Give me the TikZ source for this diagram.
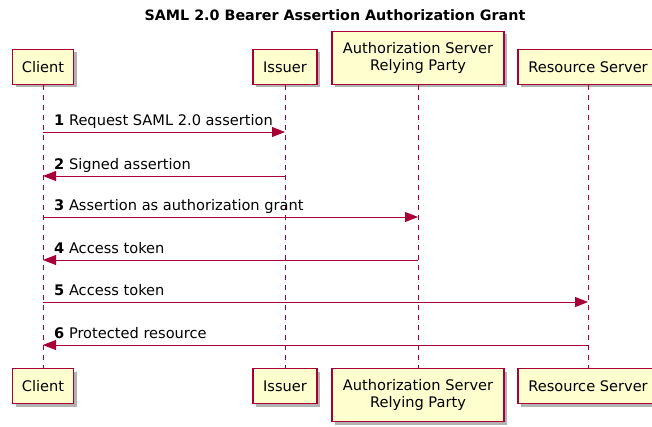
\documentclass[tikz,border=0pt]{standalone}
\usepackage{fontspec}
\setmainfont{DejaVu Sans}
\usetikzlibrary{arrows.meta}
\usetikzlibrary{shadows}
\definecolor{umlred}{HTML}{A80036}
\definecolor{umlyellow}{HTML}{FEFECE}
\tikzset{
    actor/.style = {align=center, inner sep=0pt, draw=umlred, fill=umlyellow, line width=1.3pt, minimum height=35pt,
        font=\fontsize{14.6}{17.5}\selectfont,
        drop shadow={shadow xshift=3pt, shadow yshift=-3pt, fill=black, opacity=0.3}},
    lifeline/.style = {draw=umlred, line width=0.8pt, dash pattern=on 5pt off 5pt},
    msg/.style = {draw=umlred, line width=0.9pt, -{Triangle[length=13pt, width=10pt]}},
    lbl/.style = {anchor=base west, inner sep=0pt, font=\fontsize{14.6}{17.5}\selectfont}
}

\begin{document}
\begin{tikzpicture}[x=1pt, y=-1pt]
    \useasboundingbox (0,0) rectangle (652,426);

    \node [font=\bfseries\fontsize{14.3}{17}\selectfont] (title) at (335,15) {SAML 2.0 Bearer Assertion Authorization Grant};

    % participants, top row
    \node [actor, anchor=south, minimum width=61pt]  (clientTop)   at (43,85)  {Client};
    \node [actor, anchor=south, minimum width=64pt]  (issuerTop)   at (285,85) {Issuer};
    \node [actor, anchor=south, minimum width=172pt, minimum height=53pt] (authTop) at (418,85)
        {Authorization Server\\Relying Party};
    \node [actor, anchor=south, minimum width=140pt] (resourceTop) at (588,85) {Resource Server};

    % participants, bottom row
    \node [actor, anchor=north, minimum width=61pt]  (clientBot)   at (43,368)  {Client};
    \node [actor, anchor=north, minimum width=64pt]  (issuerBot)   at (285,368) {Issuer};
    \node [actor, anchor=north, minimum width=172pt, minimum height=53pt] (authBot) at (418,368)
        {Authorization Server\\Relying Party};
    \node [actor, anchor=north, minimum width=140pt] (resourceBot) at (588,368) {Resource Server};

    % lifelines
    \draw [lifeline] (clientTop) -- (clientBot);
    \draw [lifeline] (issuerTop) -- (issuerBot);
    \draw [lifeline] (authTop) -- (authBot);
    \draw [lifeline] (resourceTop) -- (resourceBot);

    % messages
    \coordinate (c1) at (clientTop.south |- 0,132);
    \coordinate (i1) at (issuerTop.south |- 0,132);
    \coordinate (c2) at (clientTop.south |- 0,176);
    \coordinate (i2) at (issuerTop.south |- 0,176);
    \coordinate (c3) at (clientTop.south |- 0,217);
    \coordinate (a3) at (authTop.south |- 0,217);
    \coordinate (c4) at (clientTop.south |- 0,260);
    \coordinate (a4) at (authTop.south |- 0,260);
    \coordinate (c5) at (clientTop.south |- 0,302);
    \coordinate (r5) at (resourceTop.south |- 0,302);
    \coordinate (c6) at (clientTop.south |- 0,345);
    \coordinate (r6) at (resourceTop.south |- 0,345);

    \draw [msg] (c1) -- (i1);
    \draw [msg] (i2) -- (c2);
    \draw [msg] (c3) -- (a3);
    \draw [msg] (a4) -- (c4);
    \draw [msg] (c5) -- (r5);
    \draw [msg] (r6) -- (c6);

    \node [lbl] (l1) at (54,125) {\textbf{1} Request SAML 2.0 assertion};
    \node [lbl] (l2) at (54,169) {\textbf{2} Signed assertion};
    \node [lbl] (l3) at (54,210) {\textbf{3} Assertion as authorization grant};
    \node [lbl] (l4) at (54,253) {\textbf{4} Access token};
    \node [lbl] (l5) at (54,295) {\textbf{5} Access token};
    \node [lbl] (l6) at (54,338) {\textbf{6} Protected resource};
\end{tikzpicture}
\end{document}
